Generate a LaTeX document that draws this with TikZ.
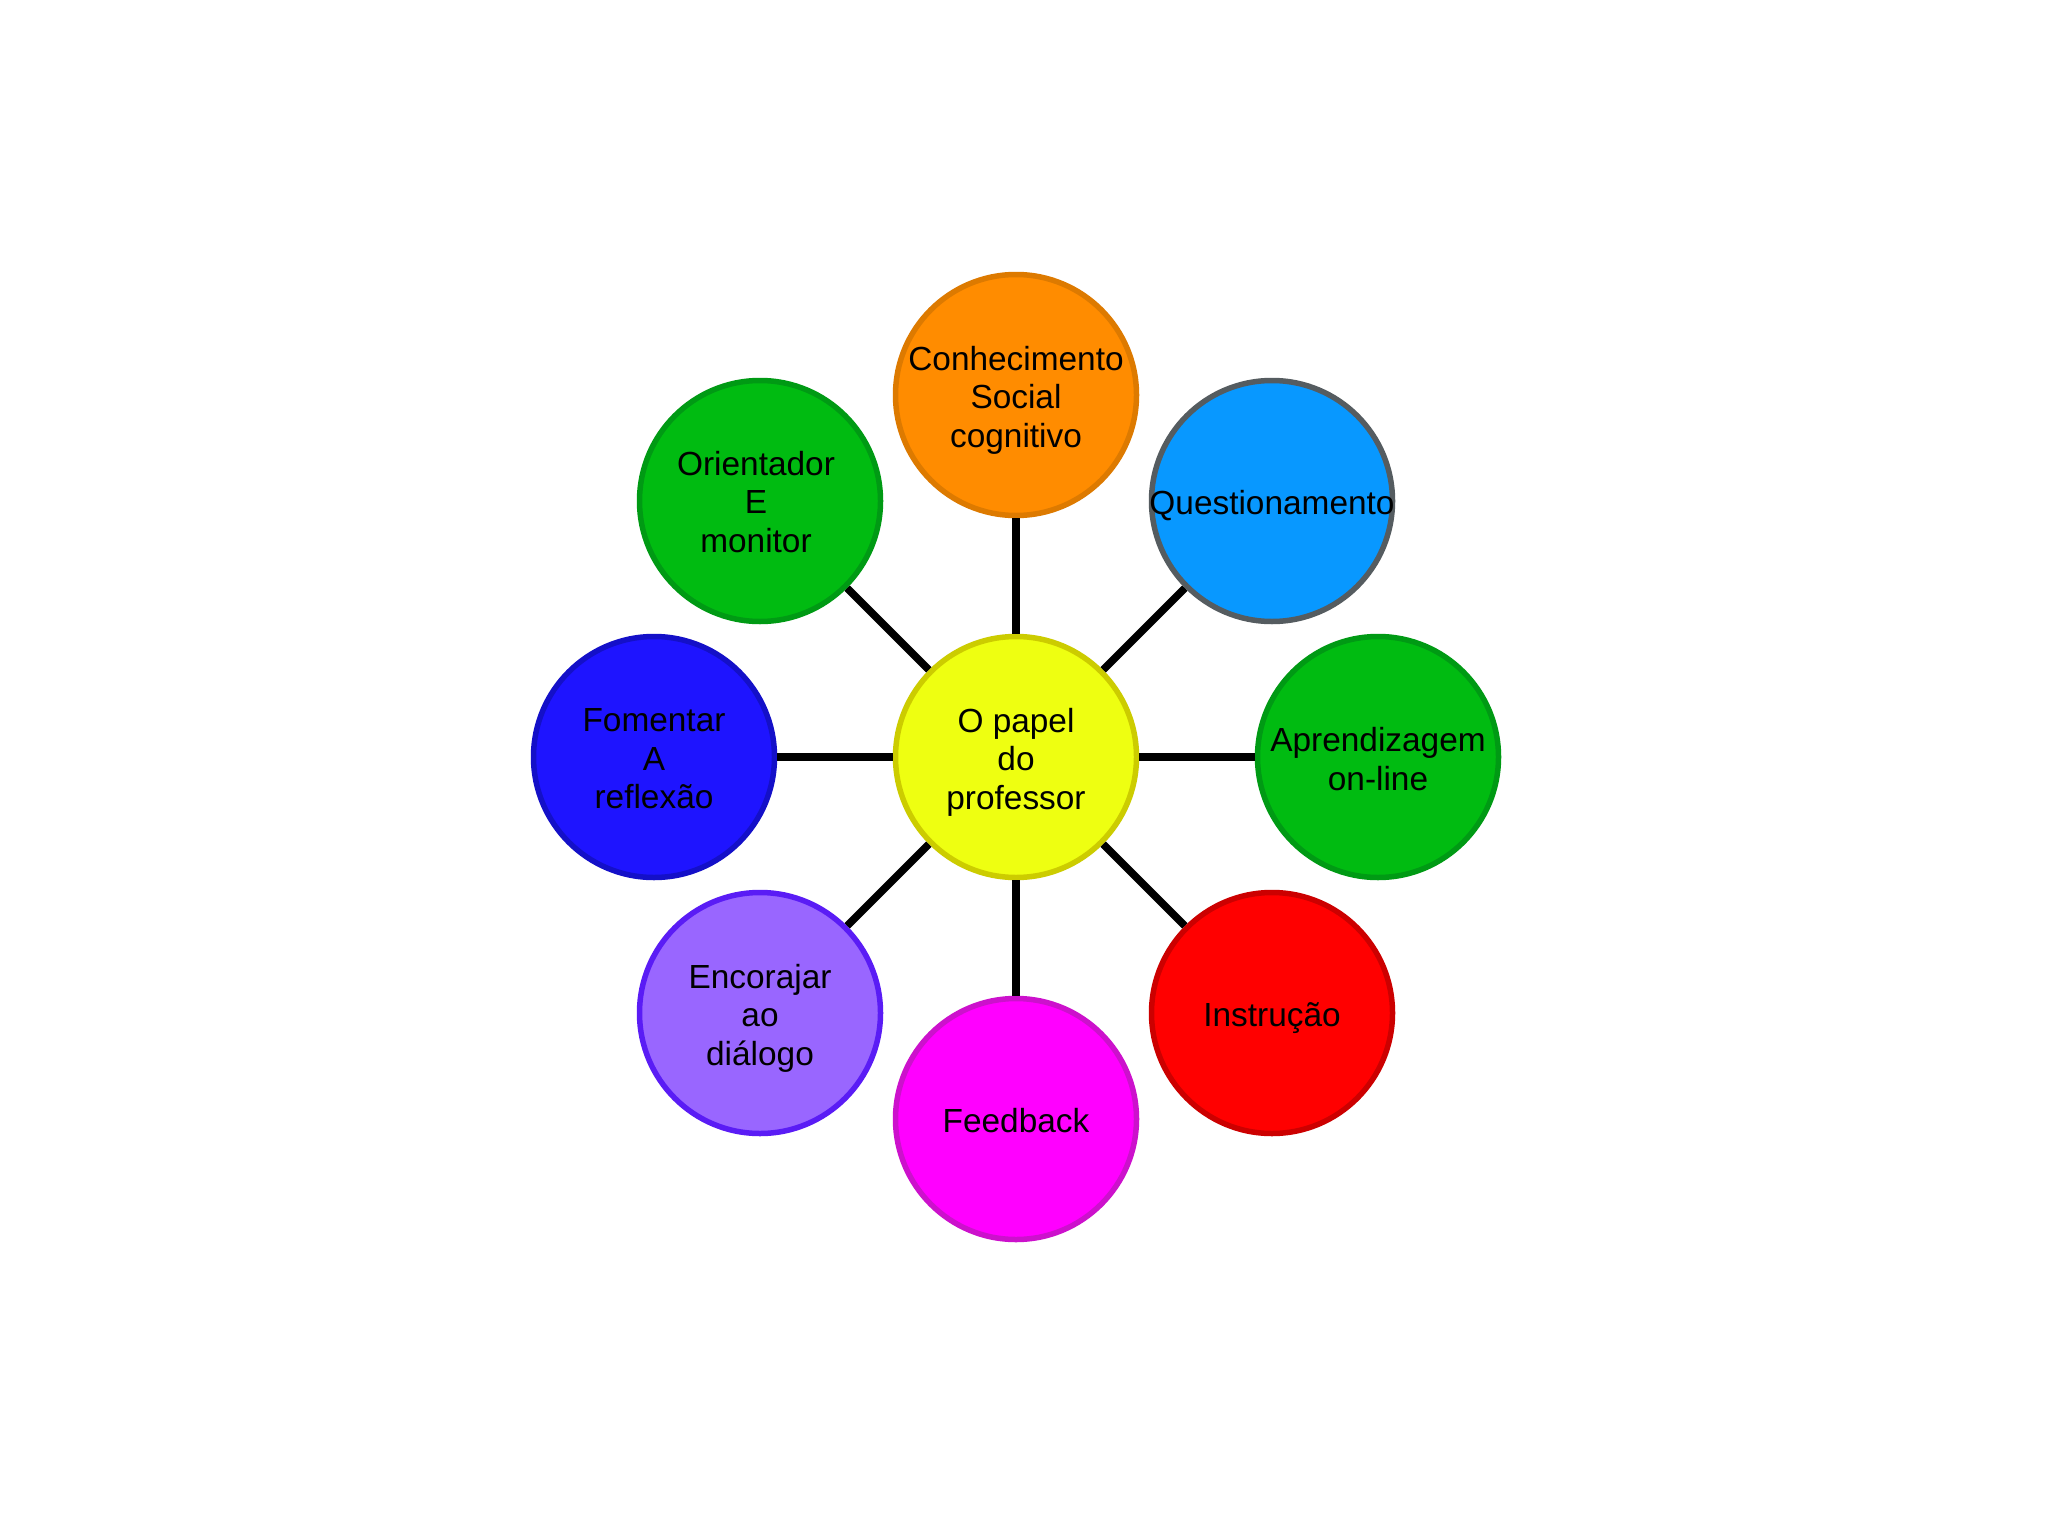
\documentclass[tikz,border=0pt]{standalone}
\usepackage{fontspec}
\setmainfont{Liberation Sans}
\definecolor{cOrF}{HTML}{FF8C00}\definecolor{cOrD}{HTML}{DD7A00}
\definecolor{cBlF}{HTML}{0898FF}\definecolor{cBlD}{HTML}{555C60}
\definecolor{cGrF}{HTML}{00BB11}\definecolor{cGrD}{HTML}{009A14}
\definecolor{cRdF}{HTML}{FF0000}\definecolor{cRdD}{HTML}{CC0000}
\definecolor{cMgF}{HTML}{FF00FF}\definecolor{cMgD}{HTML}{CC11CC}
\definecolor{cPuF}{HTML}{9966FF}\definecolor{cPuD}{HTML}{5A1CF5}
\definecolor{cDbF}{HTML}{1E14FF}\definecolor{cDbD}{HTML}{1410C8}
\definecolor{cYeF}{HTML}{EEFF11}\definecolor{cYeD}{HTML}{CCCC00}
\tikzset{
  bubble/.style={circle, minimum size=241pt, inner sep=0pt, line width=5.5pt},
  txt/.style={align=center, text=black, inner sep=0pt, yshift=-5pt,
    font=\fontsize{33.4}{38.5}\selectfont},
  link/.style={line width=7.5pt, black}
}
\begin{document}
\begin{tikzpicture}[x=1pt,y=-1pt]
\useasboundingbox (0,0) rectangle (2048,1536);
\fill[white] (0,0) rectangle (2048,1536);
\node[bubble, fill=cYeF, draw=cYeD, label={[txt]center:O papel\\do\\professor}] (c) at (1016,757) {};
\node[bubble, fill=cOrF, draw=cOrD, label={[txt]center:Conhecimento\\Social\\cognitivo}] (n) at (1016,395) {};
\node[bubble, fill=cBlF, draw=cBlD, label={[txt]center:Questionamento}] (ne) at (1272,501) {};
\node[bubble, fill=cGrF, draw=cGrD, label={[txt, yshift=3pt]center:Aprendizagem\\on-line}] (e) at (1378,757) {};
\node[bubble, fill=cRdF, draw=cRdD, label={[txt]center:Instrução}] (se) at (1272,1013) {};
\node[bubble, fill=cMgF, draw=cMgD, label={[txt, yshift=3pt]center:Feedback}] (s) at (1016,1119) {};
\node[bubble, fill=cPuF, draw=cPuD, label={[txt]center:Encorajar\\ao\\diálogo}] (sw) at (760,1013) {};
\node[bubble, fill=cDbF, draw=cDbD, label={[txt, yshift=3pt]center:Fomentar\\A\\reflexão}] (w) at (654,757) {};
\node[bubble, fill=cGrF, draw=cGrD, label={[txt, xshift=-4pt, yshift=4pt]center:Orientador\\E\\monitor}] (nw) at (760,501) {};
\foreach \t in {n,ne,e,se,s,sw,w,nw} \draw[link] (c) -- (\t);
\end{tikzpicture}
\end{document}
